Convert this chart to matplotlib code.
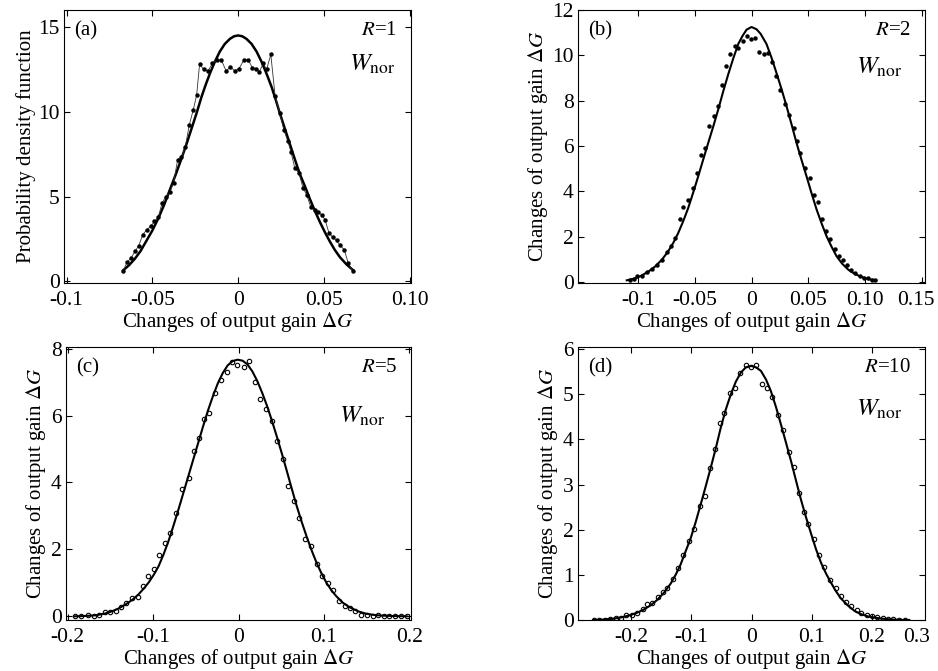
import matplotlib
matplotlib.use("Agg")
import matplotlib.pyplot as plt

plt.rcParams['font.family'] = 'serif'
plt.rcParams['font.serif'] = ['Liberation Serif', 'DejaVu Serif']
plt.rcParams['mathtext.fontset'] = 'stix'

# ---- panel (a), R=1 ----
xa_pts = [-0.0670, -0.0648, -0.0625, -0.0602, -0.0579, -0.0556, -0.0533, -0.0510, -0.0488, -0.0465,
          -0.0444, -0.0422, -0.0399, -0.0376, -0.0353, -0.0331, -0.0308, -0.0285, -0.0262, -0.0242,
          -0.0225, -0.0201, -0.0176, -0.0150, -0.0123, -0.0098, -0.0070, -0.0045, -0.0020, 0.0005,
          0.0033, 0.0058, 0.0082, 0.0106, 0.0123, 0.0146, 0.0166, 0.0190, 0.0215, 0.0243,
          0.0266, 0.0288, 0.0307, 0.0330, 0.0354, 0.0378, 0.0399, 0.0422, 0.0446, 0.0466,
          0.0486, 0.0506, 0.0529, 0.0550, 0.0573, 0.0594, 0.0618, 0.0641, 0.0667]
ya_pts = [0.62, 1.12, 1.35, 1.76, 2.10, 2.75, 3.04, 3.24, 3.53, 3.79,
          4.61, 5.00, 5.24, 5.82, 7.16, 7.32, 7.94, 9.22, 10.10, 10.98,
          12.80, 12.50, 12.40, 12.85, 13.04, 13.04, 12.40, 12.65, 12.40, 12.55,
          13.04, 13.08, 12.60, 12.55, 12.35, 12.85, 12.50, 13.38, 10.94, 9.90,
          8.92, 8.30, 7.65, 6.67, 6.38, 5.50, 5.10, 4.41, 4.18, 4.08,
          3.92, 3.63, 2.85, 2.61, 2.41, 2.12, 1.86, 1.08, 0.62]
xa_fit = [-0.0670, -0.0636, -0.0602, -0.0568, -0.0534, -0.0500, -0.0466, -0.0432, -0.0398, -0.0364,
          -0.0330, -0.0301, -0.0272, -0.0243, -0.0213, -0.0189, -0.0165, -0.0136, -0.0107, -0.0078,
          -0.0048, -0.0024, 0.0, 0.0024, 0.0048, 0.0078, 0.0107, 0.0136, 0.0165, 0.0195,
          0.0219, 0.0243, 0.0272, 0.0301, 0.0330, 0.0360, 0.0389, 0.0418, 0.0447, 0.0476,
          0.0505, 0.0534, 0.0563, 0.0593, 0.0631, 0.0670]
ya_fit = [0.65, 0.95, 1.33, 1.80, 2.40, 3.00, 3.70, 4.50, 5.40, 6.30,
          7.25, 8.10, 9.00, 9.90, 10.90, 11.60, 12.25, 12.95, 13.55, 14.00,
          14.30, 14.45, 14.50, 14.45, 14.30, 14.00, 13.55, 12.95, 12.25, 11.45,
          10.70, 9.90, 9.00, 8.10, 7.20, 6.30, 5.60, 4.85, 4.15, 3.50,
          2.90, 2.35, 1.85, 1.42, 1.00, 0.65]

# ---- panel (b), R=2 ----
xb_pts = [-0.107, -0.1035, -0.1006, -0.097, -0.092, -0.088, -0.0835, -0.079, -0.0747, -0.0709,
          -0.0671, -0.0635, -0.060, -0.0561, -0.052, -0.0482, -0.0447, -0.0409, -0.0371, -0.0335,
          -0.0297, -0.0259, -0.0223, -0.0188, -0.015, -0.0115, -0.0079, -0.0041, -0.0005, 0.0033,
          0.0068, 0.0106, 0.0142, 0.018, 0.0217, 0.0253, 0.0291, 0.0327, 0.0371, 0.040,
          0.043, 0.0474, 0.0512, 0.0547, 0.0586, 0.0621, 0.0659, 0.0695, 0.0733, 0.0768,
          0.0807, 0.0842, 0.088, 0.0915, 0.0953, 0.0989, 0.1027, 0.1063, 0.109]
yb_pts = [0.10, 0.14, 0.24, 0.26, 0.42, 0.56, 0.74, 0.98, 1.30, 1.60,
          1.94, 2.78, 3.31, 3.63, 4.15, 4.81, 5.62, 5.91, 6.87, 7.31,
          7.75, 8.71, 9.55, 10.07, 10.40, 10.33, 10.62, 10.84, 10.74, 10.77,
          10.13, 10.06, 10.10, 9.71, 9.10, 8.49, 7.85, 7.38, 6.80, 6.20,
          5.69, 5.03, 4.59, 3.85, 3.51, 2.78, 2.23, 1.90, 1.43, 1.13,
          0.95, 0.76, 0.54, 0.40, 0.25, 0.18, 0.15, 0.10, 0.08]
xb_fit = [-0.110, -0.103, -0.097, -0.091, -0.085, -0.079, -0.0735, -0.069, -0.0647, -0.0603,
          -0.0559, -0.0515, -0.047, -0.0426, -0.0382, -0.0338, -0.0294, -0.025, -0.0206, -0.0162,
          -0.0117, -0.008, -0.0044, 0.0, 0.0044, 0.008, 0.0132, 0.0176, 0.022, 0.0265,
          0.0309, 0.0353, 0.0397, 0.0441, 0.0485, 0.053, 0.0574, 0.0618, 0.0662, 0.0706,
          0.075, 0.080, 0.0853, 0.091, 0.097, 0.103, 0.110]
yb_fit = [0.07, 0.15, 0.28, 0.45, 0.68, 0.98, 1.35, 1.72, 2.15, 2.67,
          3.25, 3.93, 4.66, 5.40, 6.13, 6.85, 7.60, 8.40, 9.15, 9.85,
          10.50, 10.85, 11.13, 11.25, 11.15, 10.95, 10.50, 9.90, 9.22, 8.50,
          7.75, 6.95, 6.13, 5.38, 4.66, 3.90, 3.19, 2.58, 2.01, 1.55,
          1.13, 0.80, 0.54, 0.35, 0.22, 0.12, 0.07]

# ---- panel (c), R=5 ----
xc_pts = [-0.1919, -0.184, -0.1764, -0.1698, -0.1633, -0.1564, -0.1506, -0.1437, -0.1371, -0.1314,
          -0.1244, -0.1179, -0.1113, -0.1055, -0.0986, -0.0929, -0.0859, -0.0801, -0.0728, -0.0659,
          -0.0582, -0.0524, -0.0466, -0.0401, -0.034, -0.0274, -0.0209, -0.014, -0.0082, -0.0017,
          0.006, 0.0122, 0.0187, 0.0252, 0.0322, 0.0391, 0.0456, 0.0522, 0.0583, 0.0649,
          0.0707, 0.0776, 0.0853, 0.0918, 0.0976, 0.1045, 0.111, 0.1176, 0.1245, 0.1303,
          0.1368, 0.1437, 0.1507, 0.1572, 0.163, 0.1699, 0.1765, 0.183, 0.190, 0.1969]
yc_pts = [0.0, 0.0, 0.03, 0.0, 0.05, 0.12, 0.12, 0.15, 0.28, 0.40,
          0.55, 0.59, 0.92, 1.20, 1.40, 1.82, 2.20, 2.50, 3.10, 3.80,
          4.12, 4.94, 5.34, 5.90, 6.07, 6.67, 7.06, 7.31, 7.60, 7.52,
          7.45, 7.64, 7.00, 6.50, 6.20, 5.83, 5.25, 4.70, 3.90, 3.45,
          2.93, 2.30, 2.10, 1.55, 1.20, 1.00, 0.80, 0.47, 0.30, 0.25,
          0.15, 0.05, 0.05, 0.02, 0.03, 0.0, 0.0, 0.0, 0.0, 0.0]
xc_fit = [-0.192, -0.180, -0.167, -0.157, -0.148, -0.140, -0.132, -0.124, -0.117, -0.111,
          -0.105, -0.0993, -0.0936, -0.0878, -0.082, -0.0763, -0.0705, -0.0648, -0.059, -0.0532,
          -0.0474, -0.0416, -0.0358, -0.030, -0.0243, -0.0185, -0.0127, -0.0068, -0.001, 0.0047,
          0.0104, 0.0162, 0.022, 0.0277, 0.0335, 0.0393, 0.0451, 0.0509, 0.0567, 0.0625,
          0.0682, 0.074, 0.0798, 0.0856, 0.0914, 0.0972, 0.103, 0.109, 0.1145, 0.122,
          0.130, 0.140, 0.149, 0.159, 0.169, 0.180, 0.197]
yc_fit = [0.0, 0.01, 0.03, 0.08, 0.15, 0.24, 0.36, 0.50, 0.66, 0.83,
          1.02, 1.24, 1.50, 1.85, 2.25, 2.70, 3.18, 3.67, 4.17, 4.67,
          5.17, 5.67, 6.15, 6.58, 6.96, 7.27, 7.50, 7.63, 7.67, 7.64,
          7.53, 7.32, 7.03, 6.68, 6.28, 5.83, 5.35, 4.85, 4.33, 3.80,
          3.29, 2.82, 2.38, 1.97, 1.60, 1.28, 1.00, 0.77, 0.60, 0.41,
          0.27, 0.15, 0.08, 0.04, 0.02, 0.01, 0.0]

# ---- panel (d), R=10 ----
xd_pts = [-0.2622, -0.2528, -0.2433, -0.2344, -0.2256, -0.2161, -0.2078, -0.1983, -0.190, -0.1806,
          -0.1733, -0.165, -0.1556, -0.1472, -0.140, -0.1306, -0.1217, -0.1133, -0.1039, -0.0956,
          -0.0861, -0.0778, -0.0694, -0.0611, -0.0528, -0.0456, -0.0356, -0.0272, -0.0189, -0.0089,
          -0.0011, 0.0078, 0.0167, 0.025, 0.0339, 0.0433, 0.0522, 0.0617, 0.070, 0.0783,
          0.0867, 0.0944, 0.1033, 0.1128, 0.1211, 0.1306, 0.1394, 0.1478, 0.1572, 0.1656,
          0.175, 0.1822, 0.1911, 0.200, 0.2089, 0.2178, 0.2267, 0.235, 0.2444, 0.2544]
yd_pts = [0.01, 0.01, 0.01, 0.03, 0.05, 0.05, 0.10, 0.12, 0.16, 0.24,
          0.35, 0.38, 0.50, 0.63, 0.70, 0.90, 1.15, 1.44, 1.76, 2.02,
          2.52, 2.75, 3.36, 3.78, 4.36, 4.58, 5.03, 5.13, 5.48, 5.66,
          5.60, 5.66, 5.22, 5.15, 4.95, 4.55, 4.20, 3.72, 3.38, 2.82,
          2.40, 2.12, 1.80, 1.45, 1.18, 0.88, 0.70, 0.54, 0.40, 0.30,
          0.22, 0.16, 0.12, 0.09, 0.07, 0.04, 0.03, 0.02, 0.01, 0.01]
xd_fit = [-0.262, -0.245, -0.229, -0.215, -0.201, -0.190, -0.179, -0.168, -0.157, -0.145,
          -0.134, -0.126, -0.118, -0.110, -0.101, -0.0927, -0.0844, -0.0761, -0.0678, -0.0594,
          -0.0511, -0.0428, -0.0344, -0.0261, -0.0178, -0.0094, -0.001, 0.0073, 0.0156, 0.024,
          0.0322, 0.0406, 0.0489, 0.0572, 0.0656, 0.074, 0.0822, 0.0906, 0.0989, 0.107,
          0.1156, 0.124, 0.1322, 0.140, 0.1489, 0.160, 0.1711, 0.182, 0.1933, 0.2156,
          0.235, 0.2544, 0.262]
yd_fit = [0.0, 0.01, 0.03, 0.06, 0.11, 0.16, 0.23, 0.32, 0.44, 0.61,
          0.81, 1.00, 1.22, 1.50, 1.81, 2.17, 2.56, 2.96, 3.37, 3.80,
          4.26, 4.66, 5.00, 5.28, 5.48, 5.60, 5.63, 5.60, 5.52, 5.33,
          5.07, 4.72, 4.33, 3.93, 3.52, 3.08, 2.66, 2.27, 1.91, 1.57,
          1.26, 1.02, 0.82, 0.64, 0.47, 0.32, 0.20, 0.13, 0.08, 0.03,
          0.01, 0.0, 0.0]

ylab_pdf = 'Probability density function'
ylab_dg = r'Changes of output gain $\Delta\mathit{G}$'
xlab_dg = r'Changes of output gain $\Delta\mathit{G}$'

FS_TICK = 15.5
FS_LAB = 15


def style_axes(ax, xlim, ylim, xticks, xticklabels, yticks):
    ax.set_xlim(xlim)
    ax.set_ylim(ylim)
    ax.set_xticks(xticks)
    ax.set_xticklabels(xticklabels)
    ax.set_yticks(yticks)
    ax.tick_params(direction='in', length=4, width=0.8, top=True, right=True,
                   labelsize=FS_TICK)
    ax.tick_params(axis='x', pad=6)
    ax.tick_params(axis='y', pad=3)
    for s in ax.spines.values():
        s.set_linewidth(0.8)
    ax.set_xlabel(xlab_dg, fontsize=FS_LAB, labelpad=0)


def edge_label(ax, pos, text):
    # rightmost tick label is drawn just inside the right edge in the original
    ax.set_xticks([pos], labels=[text], minor=True)
    ax.tick_params(axis='x', which='minor', length=0, labelsize=FS_TICK, pad=6)


def add_labels(ax, tag, rtxt, wx, wy):
    ax.text(0.03, 0.925, tag, transform=ax.transAxes, fontsize=FS_LAB, va='center', ha='left')
    ax.text(0.96, 0.925, rtxt, transform=ax.transAxes, fontsize=FS_LAB, va='center', ha='right')
    ax.text(wx, wy, r'$\mathit{W}_{\mathrm{nor}}$', transform=ax.transAxes, fontsize=18,
            va='center', ha='left')


fig = plt.figure(figsize=(9.38, 6.71), dpi=100)

ax_a = fig.add_axes([0.0682, 0.5782, 0.370, 0.4069])
ax_b = fig.add_axes([0.6162, 0.5782, 0.370, 0.4069])
ax_c = fig.add_axes([0.0704, 0.0760, 0.3678, 0.4069])
ax_d = fig.add_axes([0.6162, 0.0760, 0.370, 0.4069])

# (a)
ax_a.plot(xa_fit, ya_fit, color='black', lw=1.8)
ax_a.plot(xa_pts, ya_pts, color='#333333', lw=0.6, marker='o', ms=2.2, mfc='black', mec='black')
style_axes(ax_a, (-0.1015, 0.1007), (-0.1, 16),
           [-0.1, -0.05, 0, 0.05, 0.1], ['-0.1', '-0.05', '0', '0.05', '0.10'], [0, 5, 10, 15])
ax_a.set_ylabel(ylab_pdf, fontsize=FS_LAB, labelpad=2)
add_labels(ax_a, '(a)', r'$\mathit{R}$=1', 0.82, 0.80)

# (b)
ax_b.plot(xb_fit, yb_fit, color='black', lw=1.5)
ax_b.plot(xb_pts, yb_pts, ls='none', marker='o', ms=2.2, mfc='black', mec='black')
style_axes(ax_b, (-0.153, 0.153), (-0.05, 12),
           [-0.1, -0.05, 0, 0.05, 0.1, 0.15], ['-0.1', '-0.05', '0', '0.05', '0.10', ''],
           [0, 2, 4, 6, 8, 10, 12])
edge_label(ax_b, 0.1445, '0.15')
ax_b.set_ylabel(ylab_dg, fontsize=FS_LAB, labelpad=2)
add_labels(ax_b, '(b)', r'$\mathit{R}$=2', 0.80, 0.79)

# (c)
ax_c.plot(xc_fit, yc_fit, color='black', lw=1.5)
ax_c.plot(xc_pts, yc_pts, ls='none', marker='o', ms=3.2, mfc='none', mec='black', mew=0.8)
style_axes(ax_c, (-0.202, 0.202), (-0.11, 8.05),
           [-0.2, -0.1, 0, 0.1, 0.2], ['-0.2', '-0.1', '0', '0.1', '0.2'], [0, 2, 4, 6, 8])
ax_c.set_ylabel(ylab_dg, fontsize=FS_LAB, labelpad=2)
add_labels(ax_c, '(c)', r'$\mathit{R}$=5', 0.79, 0.745)

# (d)
ax_d.plot(xd_fit, yd_fit, color='black', lw=1.5)
ax_d.plot(xd_pts, yd_pts, ls='none', marker='o', ms=3.2, mfc='none', mec='black', mew=0.8)
style_axes(ax_d, (-0.288, 0.288), (0, 6.05),
           [-0.2, -0.1, 0, 0.1, 0.2], ['-0.2', '-0.1', '0', '0.1', '0.2'], [0, 1, 2, 3, 4, 5, 6])
edge_label(ax_d, 0.274, '0.3')
ax_d.set_ylabel(ylab_dg, fontsize=FS_LAB, labelpad=2)
add_labels(ax_d, '(d)', r'$\mathit{R}$=10', 0.80, 0.77)

fig.savefig('out.png', dpi=100)
